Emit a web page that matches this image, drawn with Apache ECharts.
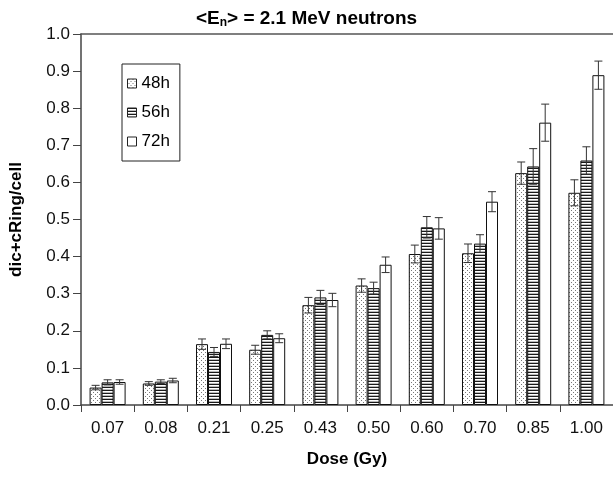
<!DOCTYPE html>
<html><head><meta charset="utf-8">
<script src="https://cdn.jsdelivr.net/npm/echarts@6/dist/echarts.min.js"></script>
<style>html,body{margin:0;padding:0;background:#fff}#c{width:613px;height:477px}</style>
</head><body><div id="c"></div>
<script>
const categories = ['0.07','0.08','0.21','0.25','0.43','0.50','0.60','0.70','0.85','1.00'];
const v48 = [0.047,0.058,0.164,0.149,0.269,0.322,0.407,0.409,0.625,0.572];
const v56 = [0.061,0.063,0.143,0.189,0.290,0.315,0.479,0.435,0.643,0.659];
const v72 = [0.062,0.066,0.165,0.180,0.283,0.378,0.476,0.548,0.761,0.889];
const e48 = [0.006,0.005,0.014,0.012,0.021,0.018,0.024,0.025,0.030,0.035];
const e56 = [0.007,0.005,0.012,0.011,0.019,0.016,0.029,0.024,0.048,0.037];
const e72 = [0.006,0.006,0.013,0.012,0.018,0.021,0.029,0.027,0.050,0.038];
const yTicks = ['0.0','0.1','0.2','0.3','0.4','0.5','0.6','0.7','0.8','0.9','1.0'];

function makePattern(type){
  const c = document.createElement('canvas');
  const ctx = c.getContext('2d');
  if(type==='dots'){
    c.width=4;c.height=4;
    ctx.fillStyle='#fff';ctx.fillRect(0,0,4,4);
    ctx.fillStyle='#777';
    ctx.fillRect(1,0,1,1);ctx.fillRect(3,2,1,1);
  } else if(type==='lines'){
    c.width=4;c.height=3;
    ctx.fillStyle='#fff';ctx.fillRect(0,0,4,3);
    ctx.fillStyle='#1a1a1a';ctx.fillRect(0,0,4,1);
    ctx.fillStyle='#bbb';ctx.fillRect(0,2,4,1);
  } else {
    c.width=2;c.height=2;ctx.fillStyle='#fff';ctx.fillRect(0,0,2,2);
  }
  return {image:c, repeat:'repeat'};
}
const fills = [makePattern('dots'), makePattern('lines'), '#ffffff'];
const names = ['48h','56h','72h'];
const vals = [v48,v56,v72];
const errs = [e48,e56,e72];
const BW = 12;
const FONT = 'Liberation Sans, Arial, sans-serif';

const series = [];
names.forEach((n,i)=>{
  series.push({
    name:n, type:'bar', data:vals[i], barWidth:BW, barGap:'0%',
    itemStyle:{color:fills[i], borderColor:'#111', borderWidth:1},
    emphasis:{disabled:true}, z:2
  });
});
names.forEach((n,i)=>{
  series.push({
    type:'custom', name:n+'err', z:5, silent:true,
    data: vals[i].map((v,k)=>[k, v, errs[i][k]]),
    renderItem:function(params, api){
      const k = api.value(0), v = api.value(1), e = api.value(2);
      const off = (i-1)*BW;
      const top = api.coord([k, v+e]);
      const bot = api.coord([k, v-e]);
      const x = top[0]+off;
      const hw = 4;
      const st = {stroke:'#333', lineWidth:1};
      return {type:'group', children:[
        {type:'line', shape:{x1:x,y1:top[1],x2:x,y2:bot[1]}, style:st},
        {type:'line', shape:{x1:x-hw,y1:top[1],x2:x+hw,y2:top[1]}, style:st},
        {type:'line', shape:{x1:x-hw,y1:bot[1],x2:x+hw,y2:bot[1]}, style:st}
      ]};
    }
  });
});

const chart = echarts.init(document.getElementById('c'));
chart.setOption({
  animation:false,
  backgroundColor:'#fff',
  title:{
    text:'{a|<E}{b|n}{a|> = 2.1 MeV neutrons}',
    left:'center', top:4,
    textStyle:{rich:{
      a:{fontFamily:FONT, fontWeight:'bold', fontSize:19, color:'#000'},
      b:{fontFamily:FONT, fontWeight:'bold', fontSize:12, color:'#000', padding:[8,0,0,0]}
    }}
  },
  legend:{
    data:names, orient:'vertical', left:122, top:64,
    padding:[11,10,11,5], itemGap:12, itemWidth:9, itemHeight:9, icon:'rect',
    borderColor:'#222', borderWidth:1,
    textStyle:{fontFamily:FONT, fontSize:17, color:'#000'},
    itemStyle:{borderColor:'#222', borderWidth:1}
  },
  grid:{left:77, top:34, width:538, height:371, containLabel:false},
  xAxis:[{
    type:'category', data:categories, boundaryGap:true,
    axisLine:{lineStyle:{color:'#444', width:1.5}},
    axisTick:{show:true, length:7, alignWithLabel:false, lineStyle:{color:'#444'}},
    axisLabel:{fontFamily:FONT, fontSize:17, color:'#111', margin:15},
    name:'Dose (Gy)', nameLocation:'middle', nameGap:46,
    nameTextStyle:{fontFamily:FONT, fontWeight:'bold', fontSize:17, color:'#000'}
  },{
    type:'category', position:'top', data:categories,
    axisLine:{show:true, lineStyle:{color:'#555', width:1.5}},
    axisTick:{show:false}, axisLabel:{show:false}
  }],
  yAxis:{
    type:'value', min:0, max:1, interval:0.1,
    axisLine:{show:true, lineStyle:{color:'#444', width:1.5}},
    axisTick:{show:true, length:8, lineStyle:{color:'#444'}},
    splitLine:{show:false},
    axisLabel:{fontFamily:FONT, fontSize:17, color:'#111', margin:11,
      formatter:(v)=>yTicks[Math.round(v*10)]},
    name:'dic+cRing/cell', nameLocation:'middle', nameGap:56,
    nameTextStyle:{fontFamily:FONT, fontWeight:'bold', fontSize:17, color:'#000'}
  },
  series:series
});
</script></body></html>
